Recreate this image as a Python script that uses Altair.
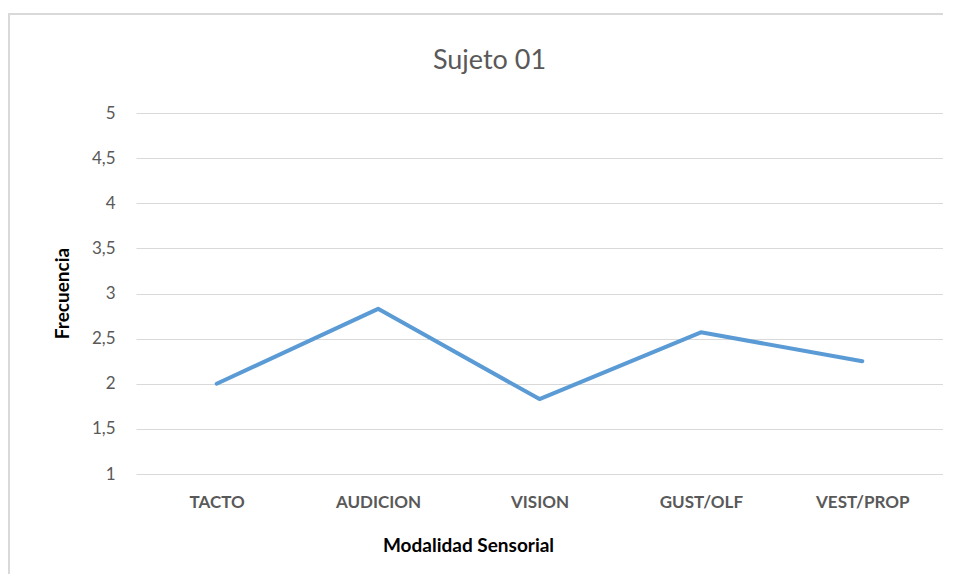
import altair as alt
import pandas as pd

categorias = ["TACTO", "AUDICION", "VISION", "GUST/OLF", "VEST/PROP"]
frecuencia = [2.0, 2.83, 1.83, 2.57, 2.25]
y_ticks = [1, 1.5, 2, 2.5, 3, 3.5, 4, 4.5, 5]

df = pd.DataFrame({"cat": categorias, "val": frecuencia})

W, H = 807, 361

line = alt.Chart(df).mark_line(color="#5B9BD5", strokeWidth=4, strokeCap="round", strokeJoin="round").encode(
    x=alt.X("cat:N", sort=categorias, scale=alt.Scale(type="point", padding=0.5),
            axis=alt.Axis(title="Modalidad Sensorial", labelAngle=0, labelFontSize=17,
                          labelColor="#595959", labelFontWeight="bold", labelPadding=20,
                          ticks=False, domain=False, grid=False,
                          titleFontSize=19, titleFontWeight="bold", titleColor="#000000",
                          titleX=332, titleY=71, titleBaseline="middle", titleAnchor="middle")),
    y=alt.Y("val:Q", scale=alt.Scale(domain=[1, 5], nice=False, zero=False),
            axis=alt.Axis(title="Frecuencia", values=y_ticks,
                          labelExpr="replace(toString(datum.value), '.', ',')",
                          labelFontSize=17, labelColor="#595959", labelPadding=21,
                          ticks=False, domain=False, grid=True, gridColor="#d9d9d9", gridWidth=1,
                          titleFontSize=19, titleFontWeight="bold", titleColor="#000000",
                          titleX=-74, titleY=180, titleAngle=-90, titleBaseline="middle",
                          titleAnchor="middle")),
)

border = alt.Chart(pd.DataFrame({"a": [0]})).mark_rect(fill=None, stroke="#d9d9d9", strokeWidth=2).encode(
    x=alt.value(-127), x2=alt.value(1000), y=alt.value(-99), y2=alt.value(520)
)

chart = alt.layer(border, line).properties(
    width=W, height=H,
    title=alt.TitleParams("Sujeto  01", fontSize=27, fontWeight="normal", color="#595959",
                          anchor="middle", dx=-50, offset=-62),
    autosize=alt.AutoSizeParams(type="none"),
    padding={"left": 128, "top": 105, "right": 0, "bottom": 100},
).configure(font="Lato").configure_view(stroke=None)

chart.save("out.html", embed_options={"renderer": "svg", "actions": False})
